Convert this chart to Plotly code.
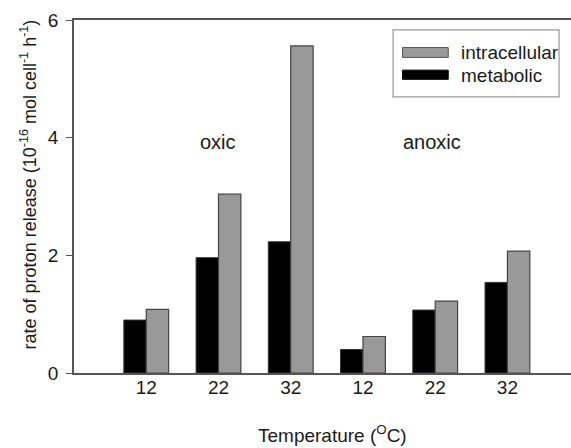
import plotly.graph_objects as go

categories = ["oxic 12", "oxic 22", "oxic 32", "anoxic 12", "anoxic 22", "anoxic 32"]
tick_labels = ["12", "22", "32", "12", "22", "32"]
metabolic = [0.90, 1.96, 2.23, 0.40, 1.07, 1.54]
intracellular = [1.08, 3.04, 5.56, 0.62, 1.22, 2.07]

FONT = "Liberation Sans, Arial, sans-serif"
AX = "#555555"
TXT = "#1a1a1a"
GRAY = "#999999"

fig = go.Figure()
fig.add_trace(go.Bar(x=categories, y=metabolic, name="metabolic", showlegend=False,
                     marker=dict(color="#000000", line=dict(color="#333333", width=1))))
fig.add_trace(go.Bar(x=categories, y=intracellular, name="intracellular", showlegend=False,
                     marker=dict(color=GRAY, line=dict(color="#444444", width=1.2))))

# custom legend (paper coordinates)
shapes = [
    dict(type="rect", xref="paper", yref="paper", x0=0.642, x1=0.976, y0=0.782, y1=0.972,
         line=dict(color="#999999", width=1.2), fillcolor="white", layer="above"),
    dict(type="rect", xref="paper", yref="paper", x0=0.661, x1=0.753, y0=0.894, y1=0.922,
         line=dict(color="#555555", width=1), fillcolor=GRAY, layer="above"),
    dict(type="rect", xref="paper", yref="paper", x0=0.661, x1=0.753, y0=0.832, y1=0.858,
         line=dict(color="#000000", width=1), fillcolor="#000000", layer="above"),
]

fig.update_layout(
    width=571, height=448,
    margin=dict(l=74, r=0, t=20, b=75),
    plot_bgcolor="white", paper_bgcolor="white",
    barmode="group", bargap=0.38, bargroupgap=0,
    font=dict(family=FONT, size=19, color=TXT),
    showlegend=False,
    shapes=shapes,
    xaxis=dict(type="category", range=[-1.0, 5.88], tickvals=categories,
               ticktext=tick_labels, showline=True, linecolor=AX, linewidth=1.5,
               mirror=True, ticks="", showgrid=False, zeroline=False,
               tickfont=dict(size=19), ticklabelstandoff=-4),
    yaxis=dict(range=[0, 6], tickvals=[0, 2, 4, 6], showline=True, linecolor=AX,
               linewidth=1.5, ticks="outside", ticklen=6, tickcolor=AX,
               showgrid=False, zeroline=False, tickfont=dict(size=19),
               ticklabelstandoff=4),
    annotations=[
        dict(text="intracellular", x=0.775, y=0.909, xref="paper", yref="paper",
             xanchor="left", yanchor="middle", showarrow=False, font=dict(size=19)),
        dict(text="metabolic", x=0.775, y=0.844, xref="paper", yref="paper",
             xanchor="left", yanchor="middle", showarrow=False, font=dict(size=19)),
        dict(text="oxic", x=1.0, y=3.92, xref="x", yref="y", showarrow=False,
             font=dict(size=20)),
        dict(text="anoxic", x=3.96, y=3.92, xref="x", yref="y", showarrow=False,
             font=dict(size=20)),
        dict(text="Temperature (<sup>O</sup>C)", x=0.52, y=-0.172, xref="paper", yref="paper",
             showarrow=False, yanchor="middle", font=dict(size=19)),
        dict(text="rate of proton release (10<sup>-16</sup> mol cell<sup>-1</sup> h<sup>-1</sup>)",
             x=-0.092, y=0.535, xref="paper", yref="paper", textangle=-90,
             showarrow=False, xanchor="center", yanchor="middle", font=dict(size=18)),
    ],
)

fig.write_html("out.html")
